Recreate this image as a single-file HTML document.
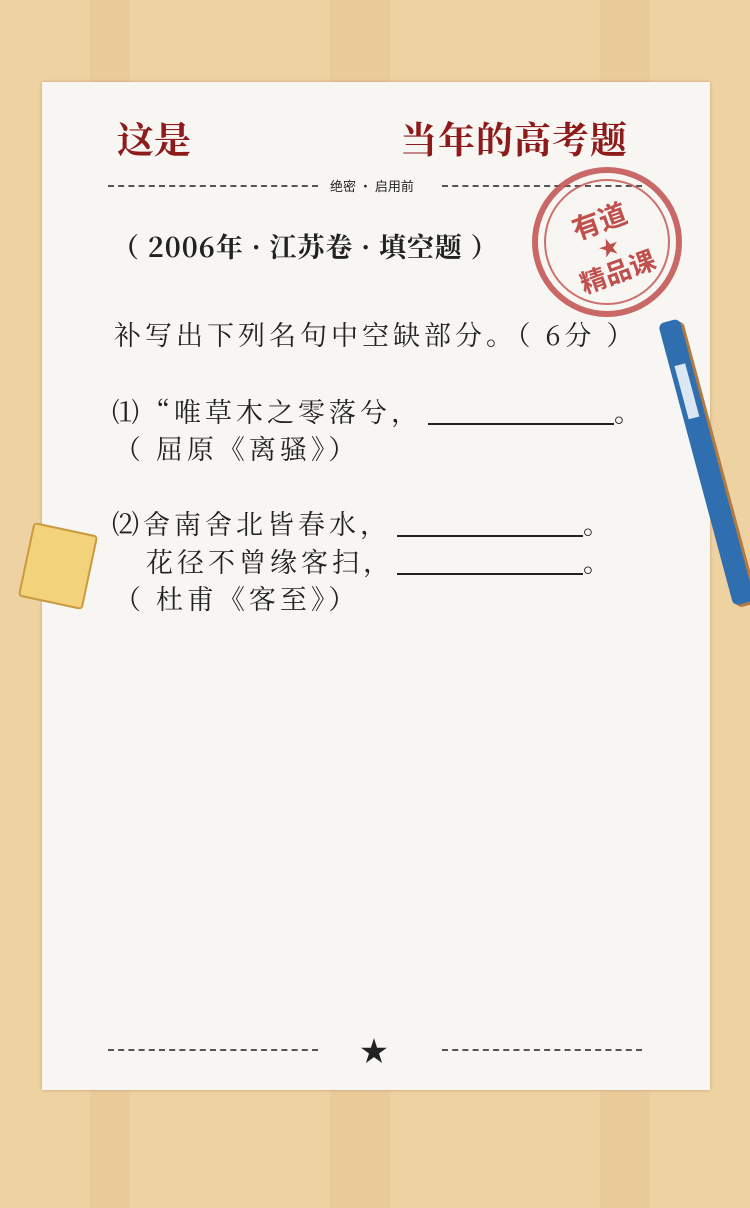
<!DOCTYPE html>
<html><head><meta charset="utf-8">
<style>
body{margin:0;width:750px;height:1208px;overflow:hidden;background:#efd2a2;position:relative;font-family:"Noto Serif CJK SC","Liberation Serif",serif;}
.bgstripe{position:absolute;top:0;height:1208px;background:rgba(200,150,90,0.10);}
#paper{position:absolute;left:42px;top:82px;width:668px;height:1008px;background:#f8f6f3;box-shadow:0 0 3px rgba(120,80,40,0.4);}
.t{position:absolute;white-space:nowrap;color:#222;}
.title{color:#8e1b1b;font-weight:bold;font-size:37px;top:110px;}
.dash{position:absolute;height:0;border-top:2px dashed #555;}
.body{font-size:27px;line-height:36px;letter-spacing:1.5px;}
.bl{position:absolute;height:0;border-top:2px solid #222;width:186px;}
</style></head><body>
<div class="bgstripe" style="left:90px;width:40px"></div>
<div class="bgstripe" style="left:330px;width:60px"></div>
<div class="bgstripe" style="left:600px;width:50px"></div>
<div id="paper"></div>
<div class="t title" style="left:117px">这是</div>
<div class="t title" style="left:400px;letter-spacing:1px">当年的高考题</div>
<div class="dash" style="left:108px;top:185px;width:210px"></div>
<div class="t" style="left:330px;top:176px;font-size:13px;font-family:'Noto Sans CJK SC',sans-serif">绝密 · 启用前</div>
<div class="dash" style="left:442px;top:185px;width:200px"></div>
<div class="t body" style="left:112px;top:228px;font-weight:bold;letter-spacing:1px">（ 2006年 · 江苏卷 · 填空题 ）</div>
<div class="t body" style="left:114px;top:316px;letter-spacing:4px">补写出下列名句中空缺部分。（ 6分 ）</div>
<div class="t body" style="left:112px;top:393px;letter-spacing:4px">⑴“唯草木之零落兮，</div>
<div class="bl" style="left:428px;top:423px"></div>
<div class="t body" style="left:614px;top:393px">。</div>
<div class="t body" style="left:114px;top:430px;letter-spacing:4px">（ 屈原《离骚》）</div>
<div class="t body" style="left:112px;top:505px;letter-spacing:4px">⑵舍南舍北皆春水，</div>
<div class="bl" style="left:397px;top:535px"></div>
<div class="t body" style="left:583px;top:505px">。</div>
<div class="t body" style="left:146px;top:543px;letter-spacing:4px">花径不曾缘客扫，</div>
<div class="bl" style="left:397px;top:573px"></div>
<div class="t body" style="left:583px;top:543px">。</div>
<div class="t body" style="left:114px;top:580px;letter-spacing:4px">（ 杜甫《客至》）</div>
<div class="dash" style="left:108px;top:1049px;width:210px"></div>
<div class="t" style="left:360px;top:1030px;font-size:28px">★</div>
<div class="dash" style="left:442px;top:1049px;width:200px"></div>
<svg style="position:absolute;left:530px;top:165px" width="155" height="155">
<circle cx="77" cy="77" r="72" fill="none" stroke="#c0504d" stroke-width="6" opacity="0.85"/>
<circle cx="77" cy="77" r="62" fill="none" stroke="#c0504d" stroke-width="2" opacity="0.8"/>
<g transform="rotate(-20 77 77)" fill="#c0504d" font-weight="bold" font-family="Noto Sans CJK SC,sans-serif">
<text x="77" y="65" font-size="28" text-anchor="middle">有道</text>
<text x="77" y="90" font-size="20" text-anchor="middle">★</text>
<text x="77" y="118" font-size="26" text-anchor="middle">精品课</text>
</g></svg>
<div style="position:absolute;left:658px;top:324px;width:22px;height:292px;background:#2f6fb0;border-radius:6px;transform:rotate(-15deg);transform-origin:top left;box-shadow:3px 3px 0 #b07a40">
<div style="position:absolute;left:5px;top:45px;width:11px;height:55px;background:#dbe8f3"></div></div>
<div style="position:absolute;left:25px;top:528px;width:62px;height:72px;background:#f2d27a;border:2px solid #c99a3f;border-radius:4px;transform:rotate(12deg)"></div>
</body></html>
